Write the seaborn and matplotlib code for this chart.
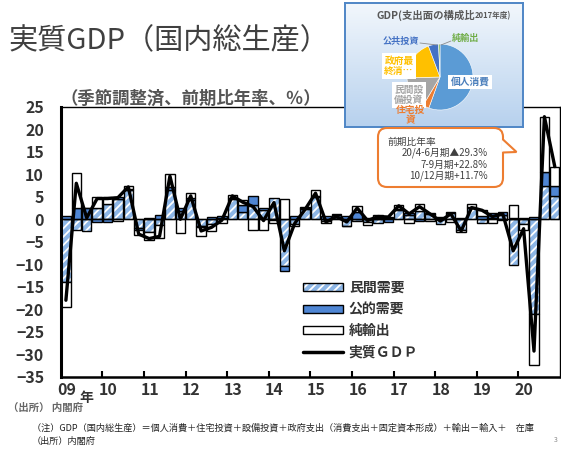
import matplotlib
matplotlib.use('Agg')
import matplotlib.pyplot as plt
import seaborn as sns
import numpy as np
import pandas as pd
from matplotlib.patches import Patch, FancyBboxPatch, Polygon
from matplotlib.lines import Line2D
from matplotlib.colors import LinearSegmentedColormap

# ---- data (annualised q/q %, contributions) ----
years = ['09', '10', '11', '12', '13', '14', '15', '16', '17', '18', '19', '20']
quarters = [f'{y}Q{q}' for y in range(2009, 2021) for q in range(1, 5)]

private_demand = [
    -14.0, -2.4, -2.6, 2.5, 3.3, 4.6, 6.6, -2.0,
    -2.8, -1.2, 6.5, 1.8, 4.3, -1.4, -1.1, 0.3,
    4.5, 1.7, 3.2, 2.1, 4.7, -10.5, -1.0, 2.2,
    4.9, -0.4, 0.5, -1.4, -0.4, -0.6, -0.9, 0.3,
    2.1, 1.0, 1.9, 1.2, -1.1, 1.4, -2.4, 2.6,
    -0.9, 0.3, 1.0, -10.2, -1.0, -21.0, 7.4, 5.2,
]
public_demand = [
    0.8, 2.6, 2.4, -0.5, -0.5, 0.3, 0.2, -0.3,
    0.3, 0.9, 0.6, 0.6, 0.4, -0.3, 0.6, 0.4,
    0.3, 1.5, 2.0, 0.5, -0.2, -1.1, 0.8, 0.3,
    0.3, 0.8, 0.4, 0.8, 1.6, 0.2, 0.2, -0.5,
    0.1, 0.3, -0.3, 0.2, 0.3, 0.2, 0.2, 0.2,
    0.8, 1.0, 0.7, 0.3, 0.3, 0.6, 3.2, 2.1,
]
net_exports = [
    -5.5, 7.6, 0.2, 2.4, 1.6, -0.4, 0.6, -1.2,
    -1.8, -3.0, 3.0, -3.1, 1.1, -2.0, -1.6, -0.8,
    0.6, 1.1, -2.4, -2.4, -0.6, 4.5, -0.6, 0.3,
    1.2, -0.5, 0.3, -0.2, 1.4, -0.7, 0.8, 0.3,
    1.0, -0.9, 1.6, -0.3, 0.3, -0.5, -0.4, 0.7,
    1.3, -0.9, -0.2, 2.8, -1.4, -11.4, 12.2, 4.4,
]
real_gdp = [
    -18.0, 8.0, 0.3, 4.6, 4.6, 4.8, 7.2, -3.3,
    -4.3, -3.8, 9.6, 0.0, 5.2, -2.6, -1.8, -0.2,
    5.2, 3.8, 2.8, -0.3, 3.7, -7.0, -0.9, 2.2,
    5.8, -0.6, 0.6, -0.6, 2.5, -0.3, 0.6, 0.5,
    3.0, 1.2, 2.8, 1.2, -0.4, 1.2, -2.6, 2.6,
    2.0, 0.6, 1.2, -7.0, -2.1, -29.3, 22.8, 11.7,
]
legend_labels = ['民間需要', '公的需要', '純輸出', '実質ＧＤＰ']

# pie: GDP composition FY2017 (%)
pie_labels = ['個人消費', '住宅投資', '民間設備投資', '政府最終消費', '公共投資', '純輸出']
pie_shares = [55.5, 3.1, 16.0, 19.7, 5.0, 0.7]
pie_colors = ['#5b9bd5', '#ed7d31', '#a5a5a5', '#ffc000', '#4472c4', '#70ad47']

df = pd.DataFrame({'quarter': quarters, 'priv': private_demand, 'pub': public_demand,
                   'nx': net_exports, 'gdp': real_gdp})
df['x'] = np.arange(len(df))

sns.set_style('white')
plt.rcParams['font.family'] = ['Noto Sans CJK JP', 'DejaVu Sans']
plt.rcParams['hatch.linewidth'] = 1.3

W, H = 561, 450
fig = plt.figure(figsize=(W / 100, H / 100), dpi=100)

# ---- main chart ----
ax = fig.add_axes([60.7 / W, (H - 376.7) / H, (560 - 60.7) / W, (376.7 - 106.8) / H], zorder=1)
priv_color = '#8db6e6'
pub_color = '#4f86d4'
bw = 0.9
pos = np.zeros(len(df))
neg = np.zeros(len(df))
for col, face, hatch in [('priv', priv_color, True), ('pub', pub_color, False), ('nx', 'white', False)]:
    v = df[col].values
    bottom = np.where(v >= 0, pos, neg)
    if hatch:
        ax.bar(df['x'], v, bw, bottom=bottom, color=face, edgecolor='white', hatch='////', linewidth=0, zorder=2)
        ax.bar(df['x'], v, bw, bottom=bottom, facecolor='none', edgecolor='black', linewidth=1, zorder=2)
    else:
        ax.bar(df['x'], v, bw, bottom=bottom, facecolor=face, edgecolor='black', linewidth=1, zorder=2)
    pos = np.where(v >= 0, pos + v, pos)
    neg = np.where(v < 0, neg + v, neg)

ax.axhline(0, color='black', lw=0.9, zorder=3)
sns.lineplot(data=df, x='x', y='gdp', color='black', lw=2.4, ax=ax, zorder=4)

ax.set_xlim(-0.5, 47.5)
ax.set_ylim(-35, 25)
ax.set_xlabel('')
ax.set_ylabel('')
ax.set_yticks(range(-35, 30, 5))
ax.tick_params(axis='y', length=0, pad=12, labelsize=11.5, labelcolor='#333333')
ax.set_xticks([4 * i + 0.05 for i in range(len(years))])
ax.set_xticklabels(years)
ax.set_xticks([4 * i - 0.5 for i in range(1, len(years))], minor=True)
ax.tick_params(axis='x', which='major', length=0, pad=4, labelsize=11.5, labelcolor='#333333')
ax.tick_params(axis='x', which='minor', direction='in', length=4, width=1.5, color='black', bottom=True)
for lab in ax.get_xticklabels() + ax.get_yticklabels():
    lab.set_fontweight('bold')
for side, lw in [('left', 2.2), ('bottom', 1.8), ('top', 1.0), ('right', 1.0)]:
    ax.spines[side].set_visible(True)
    ax.spines[side].set_color('black')
    ax.spines[side].set_linewidth(lw)

h1 = (Patch(facecolor=priv_color, edgecolor='white', hatch='////', linewidth=0),
      Patch(facecolor='none', edgecolor='black', linewidth=1))
h2 = Patch(facecolor=pub_color, edgecolor='black', linewidth=1)
h3 = Patch(facecolor='white', edgecolor='black', linewidth=1)
h4 = Line2D([], [], color='black', lw=2.5)
leg = ax.legend([h1, h2, h3, h4], legend_labels, loc='upper left',
                bbox_to_anchor=(303 / W, 1 - 281 / H), bbox_transform=fig.transFigure,
                frameon=False, fontsize=10, handlelength=2.9, handleheight=0.5,
                handletextpad=0.4, labelspacing=0.55, borderpad=0, borderaxespad=0)
for t in leg.get_texts():
    t.set_color('#333333')
    t.set_fontweight('bold')

# ---- pie inset ----
bg = fig.add_axes([345 / W, 1 - 127 / H, 178 / W, 124 / H], zorder=3)
grad = np.linspace(0, 1, 100).reshape(-1, 1)
cm = LinearSegmentedColormap.from_list('bgc', ['#f2f7fc', '#b7d1ee'])
bg.imshow(grad, aspect='auto', cmap=cm, extent=(0, 1, 0, 1), origin='upper')
bg.set_xticks([])
bg.set_yticks([])
for s in bg.spines.values():
    s.set_color('#4f86c6')
    s.set_linewidth(1.4)

pax = fig.add_axes([(440 - 33) / W, (H - 77 - 33) / H, 66 / W, 66 / H], zorder=4)
pax.pie(pie_shares, colors=pie_colors, startangle=90, counterclock=False,
        wedgeprops=dict(linewidth=0.4, edgecolor='white'))
pax.set_xlim(-1, 1)
pax.set_ylim(-1, 1)
pax.set_aspect('equal')
pax.axis('off')

# ---- overlay in pixel coordinates ----
ov = fig.add_axes([0, 0, 1, 1], zorder=10)
ov.set_xlim(0, W)
ov.set_ylim(H, 0)
ov.axis('off')
ov.patch.set_alpha(0)

ov.text(8, 41, '実質GDP（国内総生産）', fontsize=21, color='#404040', va='center', ha='left')
ov.text(60, 99, '（季節調整済、前期比年率、％）', fontsize=12.5, fontweight='bold',
        color='#555555', va='center', ha='left')
ov.text(86, 398, '年', fontsize=10, fontweight='bold', color='#333333', va='center', ha='center')
ov.text(8, 408, '（出所） 内閣府', fontsize=7.5, fontweight='bold', color='#666666', va='center')
ov.text(32, 428, '（注）GDP（国内総生産）＝個人消費＋住宅投資＋設備投資＋政府支出（消費支出＋固定資本形成）＋輸出－輸入＋　在庫',
        fontsize=6.6, color='#222222', va='center')
ov.text(32, 441, '（出所）内閣府', fontsize=6.6, color='#222222', va='center')
ov.text(556, 440, '3', fontsize=5, color='#888888', va='center', ha='center')

# pie title and labels
ov.text(475, 15, 'GDP(支出面の構成比', fontsize=7.5, fontweight='bold', color='#595959', ha='right', va='center')
ov.text(475, 16, '2017年度)', fontsize=5.5, fontweight='bold', color='#595959', ha='left', va='center')
ov.plot([420, 437], [43, 45], color='#8c8c8c', lw=0.6)
ov.plot([451, 441], [41, 45], color='#8c8c8c', lw=0.6)
ov.text(401, 41, '公共投資', fontsize=6.6, fontweight='bold', color='#4472c4', ha='center', va='center')
ov.text(466, 38, '純輸出', fontsize=6.6, fontweight='bold', color='#70ad47', ha='center', va='center')
box = dict(boxstyle='square,pad=0.25', facecolor='white', edgecolor='none')
ov.text(399, 66, '政府最\n終消…', fontsize=7, fontweight='bold', color='#ffc000', ha='center', va='center',
        linespacing=1.1, bbox=box)
ov.text(470, 82, '個人消費', fontsize=7, fontweight='bold', color='#4a7ebb', ha='center', va='center', bbox=box)
ov.text(409, 95, '民間設\n備投資', fontsize=7, fontweight='bold', color='#a5a5a5', ha='center', va='center',
        linespacing=1.1, bbox=box)
ov.text(411, 115, '住宅投\n資', fontsize=7, fontweight='bold', color='#ed7d31', ha='center', va='center',
        linespacing=1.05)

# callout
orange = '#ed7d31'
ov.add_patch(FancyBboxPatch((378, 128), 125, 59, boxstyle='round,pad=0,rounding_size=9',
                            facecolor='white', edgecolor=orange, lw=1.5, zorder=2))
ov.add_patch(Polygon([(502, 139.5), (516, 152), (502, 152.5)], closed=True,
                     facecolor='white', edgecolor='none', zorder=3))
ov.plot([503, 516.5, 503], [139.5, 152, 152.5], color=orange, lw=1.5, zorder=4, solid_joinstyle='miter')
ov.text(388, 142, '前期比年率', fontsize=7, color='#404040', va='center', ha='left', zorder=5)
ov.text(488, 153, '20/4-6月期▲29.3%', fontsize=7, color='#404040', va='center', ha='right', zorder=5)
ov.text(488, 164.5, '7-9月期+22.8%', fontsize=7, color='#404040', va='center', ha='right', zorder=5)
ov.text(488, 176, '10/12月期+11.7%', fontsize=7, color='#404040', va='center', ha='right', zorder=5)

fig.savefig('out.png', dpi=100, facecolor='white')
